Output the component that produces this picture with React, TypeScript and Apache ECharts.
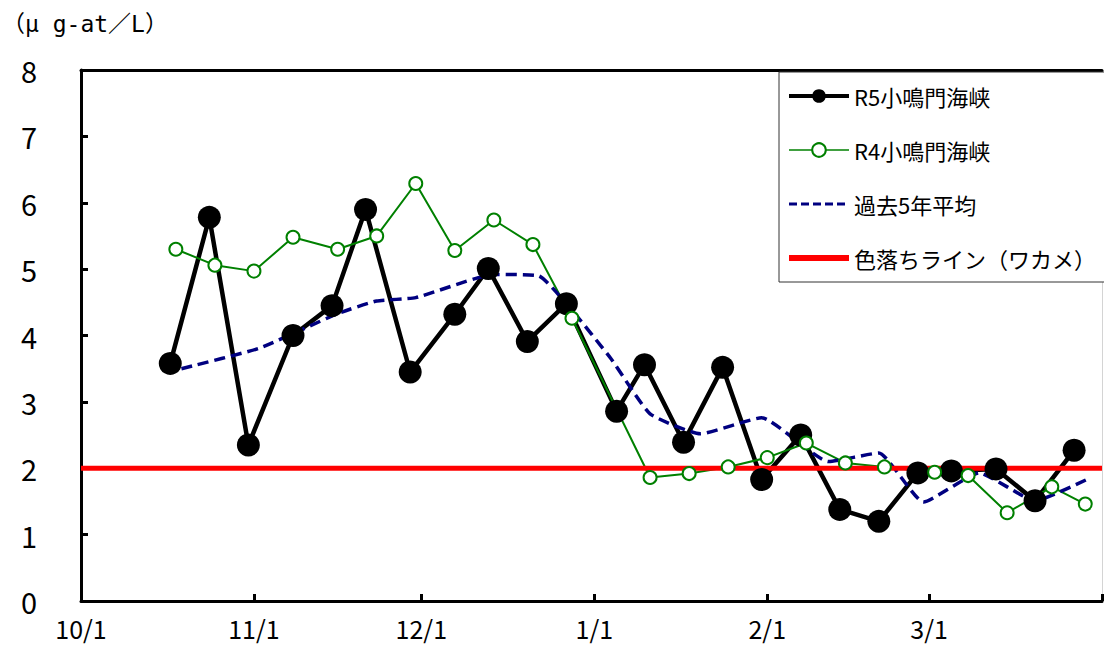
import React, { useEffect, useRef } from "react";
import * as echarts from "echarts";

const FONT = "'Noto Sans CJK JP', 'Noto Sans', sans-serif";

const axisStart = "2023-10-01";
const axisEnd = "2024-04-01";
const monthTicks = ["2023-10-01", "2023-11-01", "2023-12-01", "2024-01-01", "2024-02-01", "2024-03-01", "2024-04-01"];
const monthLabels = ["2023-10-01", "2023-11-01", "2023-12-01", "2024-01-01", "2024-02-01", "2024-03-01"];
const yTicks = [0, 1, 2, 3, 4, 5, 6, 7, 8];

const seriesNames = ["R5小鳴門海峡", "R4小鳴門海峡", "過去5年平均", "色落ちライン（ワカメ）"];

const r5Dates = [
  "2023-10-17", "2023-10-24", "2023-10-31", "2023-11-08", "2023-11-15", "2023-11-21",
  "2023-11-29", "2023-12-07", "2023-12-13", "2023-12-20", "2023-12-27", "2024-01-05",
  "2024-01-10", "2024-01-17", "2024-01-24", "2024-01-31", "2024-02-07", "2024-02-14",
  "2024-02-21", "2024-02-28", "2024-03-05", "2024-03-13", "2024-03-20", "2024-03-27",
];
const r5Values = [
  3.58, 5.78, 2.35, 4.0, 4.45, 5.9,
  3.45, 4.32, 5.01, 3.91, 4.48, 2.86,
  3.56, 2.39, 3.52, 1.83, 2.5, 1.38,
  1.2, 1.93, 1.96, 1.99, 1.51, 2.27,
];

const r4Dates = [
  "2023-10-18", "2023-10-25", "2023-11-01", "2023-11-08", "2023-11-16", "2023-11-23",
  "2023-11-30", "2023-12-07", "2023-12-14", "2023-12-21", "2023-12-28", "2024-01-11",
  "2024-01-18", "2024-01-25", "2024-02-01", "2024-02-08", "2024-02-15", "2024-02-22",
  "2024-03-02", "2024-03-08", "2024-03-15", "2024-03-23", "2024-03-29",
];
const r4Values = [
  5.3, 5.06, 4.97, 5.48, 5.3, 5.5,
  6.29, 5.28, 5.74, 5.37, 4.26, 1.86,
  1.92, 2.02, 2.16, 2.38, 2.08, 2.02,
  1.94, 1.89, 1.33, 1.72, 1.46,
];

const avgDates = [
  "2023-10-19", "2023-11-02", "2023-11-16", "2023-11-23", "2023-11-30", "2023-12-14",
  "2023-12-22", "2023-12-28", "2024-01-04", "2024-01-11", "2024-01-20", "2024-01-31",
  "2024-02-12", "2024-02-21", "2024-02-29", "2024-03-10", "2024-03-20", "2024-03-30",
];
const avgValues = [
  3.5, 3.81, 4.33, 4.52, 4.57, 4.92,
  4.9, 4.38, 3.65, 2.82, 2.52, 2.76,
  2.1, 2.23, 1.49, 1.93, 1.51, 1.86,
];

const thresholdDates = [axisStart, axisEnd];
const thresholdValues = [2, 2];

function ts(s: string): number {
  const [y, m, d] = s.split("-").map(Number);
  return new Date(y, m - 1, d).getTime();
}

function pairs(dates: string[], values: number[]) {
  return dates.map((d, i) => [ts(d), values[i]]);
}

export default function App() {
  const ref = useRef<HTMLDivElement>(null);

  useEffect(() => {
    if (!ref.current) return;
    const chart = echarts.init(ref.current, undefined, { renderer: "svg" });

    const option: any = {
      animation: false,
      backgroundColor: "#ffffff",
      textStyle: { fontFamily: FONT },
      grid: { left: 81, right: 2, top: 70, bottom: 45, containLabel: false },
      graphic: [
        {
          type: "text",
          left: 2,
          top: 12,
          style: {
            text: "（μ g-at／L）",
            fontSize: 23,
            fontFamily: "'DejaVu Sans Mono', 'Noto Sans CJK JP', monospace",
            fill: "#000",
          },
        },
        {
          type: "rect",
          z: 3,
          shape: { x: 779, y: 72, width: 340, height: 210 },
          style: { fill: "#fff", stroke: "#333", lineWidth: 1 },
        },
      ],
      legend: {
        orient: "vertical",
        left: 779,
        top: 72,
        z: 5,
        padding: [13, 10, 13, 7],
        itemGap: 32,
        itemWidth: 60,
        itemHeight: 17,
        textStyle: { fontSize: 22, lineHeight: 22, color: "#000", fontFamily: "'Noto Sans CJK JP'" },
        data: [
          { name: seriesNames[0], lineStyle: { width: 4 } },
          { name: seriesNames[1], lineStyle: { width: 1.5 } },
          { name: seriesNames[2], lineStyle: { width: 3, type: [8, 4] }, itemStyle: { opacity: 0 } },
          { name: seriesNames[3], lineStyle: { width: 6 }, itemStyle: { opacity: 0 } },
        ],
      },
      xAxis: [
        {
          type: "value",
          min: ts(axisStart),
          max: ts(axisEnd),
          axisLine: { onZero: false, lineStyle: { color: "#000", width: 3 } },
          axisTick: {
            inside: true,
            length: 7,
            lineStyle: { color: "#000", width: 3 },
            customValues: monthTicks.map(ts),
          },
          axisLabel: {
            customValues: monthLabels.map(ts),
            fontSize: 25,
            color: "#000",
            fontFamily: FONT,
            margin: 14,
            hideOverlap: false,
            formatter: (v: number) => {
              const d = new Date(v);
              return `${d.getMonth() + 1}/${d.getDate()}`;
            },
          },
          splitLine: { show: false },
        },
        {
          type: "value",
          position: "top",
          min: ts(axisStart),
          max: ts(axisEnd),
          axisLine: { show: true, onZero: false, lineStyle: { color: "#000", width: 3 } },
          axisTick: { show: false },
          axisLabel: { show: false },
          splitLine: { show: false },
        },
      ],
      yAxis: [
        {
          type: "value",
          min: 0,
          max: 8,
          interval: 1,
          axisLine: { show: true, onZero: false, lineStyle: { color: "#000", width: 3 } },
          axisTick: {
            show: true,
            inside: true,
            length: 7,
            lineStyle: { color: "#000", width: 3 },
            customValues: yTicks,
          },
          axisLabel: {
            fontSize: 29,
            color: "#000",
            fontFamily: FONT,
            margin: 44,
          },
          splitLine: { show: false },
        },
        {
          type: "value",
          position: "right",
          min: 0,
          max: 8,
          interval: 1,
          axisLine: { show: true, lineStyle: { color: "#d4d4d4", width: 1 } },
          axisTick: { show: false },
          axisLabel: { show: false },
          splitLine: { show: false },
        },
      ],
      series: [
        {
          name: seriesNames[0],
          type: "line",
          data: pairs(r5Dates, r5Values),
          symbol: "circle",
          symbolSize: 23,
          lineStyle: { color: "#000", width: 4.5 },
          itemStyle: { color: "#000" },
        },
        {
          name: seriesNames[1],
          type: "line",
          data: pairs(r4Dates, r4Values),
          symbol: "emptyCircle",
          symbolSize: 13,
          lineStyle: { color: "#008000", width: 2 },
          itemStyle: { color: "#008000", borderWidth: 2 },
        },
        {
          name: seriesNames[2],
          type: "line",
          data: pairs(avgDates, avgValues),
          symbol: "none",
          smooth: 0.15,
          lineStyle: { color: "#000080", width: 3.5, type: [11, 6] },
          itemStyle: { color: "#000080" },
        },
        {
          name: seriesNames[3],
          type: "line",
          data: pairs(thresholdDates, thresholdValues),
          symbol: "none",
          lineStyle: { color: "#ff0000", width: 5 },
          itemStyle: { color: "#ff0000" },
        },
      ],
    };

    chart.setOption(option);
    return () => chart.dispose();
  }, []);

  return (
    <div
      ref={ref}
      style={{ position: "fixed", left: 0, top: 0, width: 1104, height: 646, background: "#fff" }}
    />
  );
}
